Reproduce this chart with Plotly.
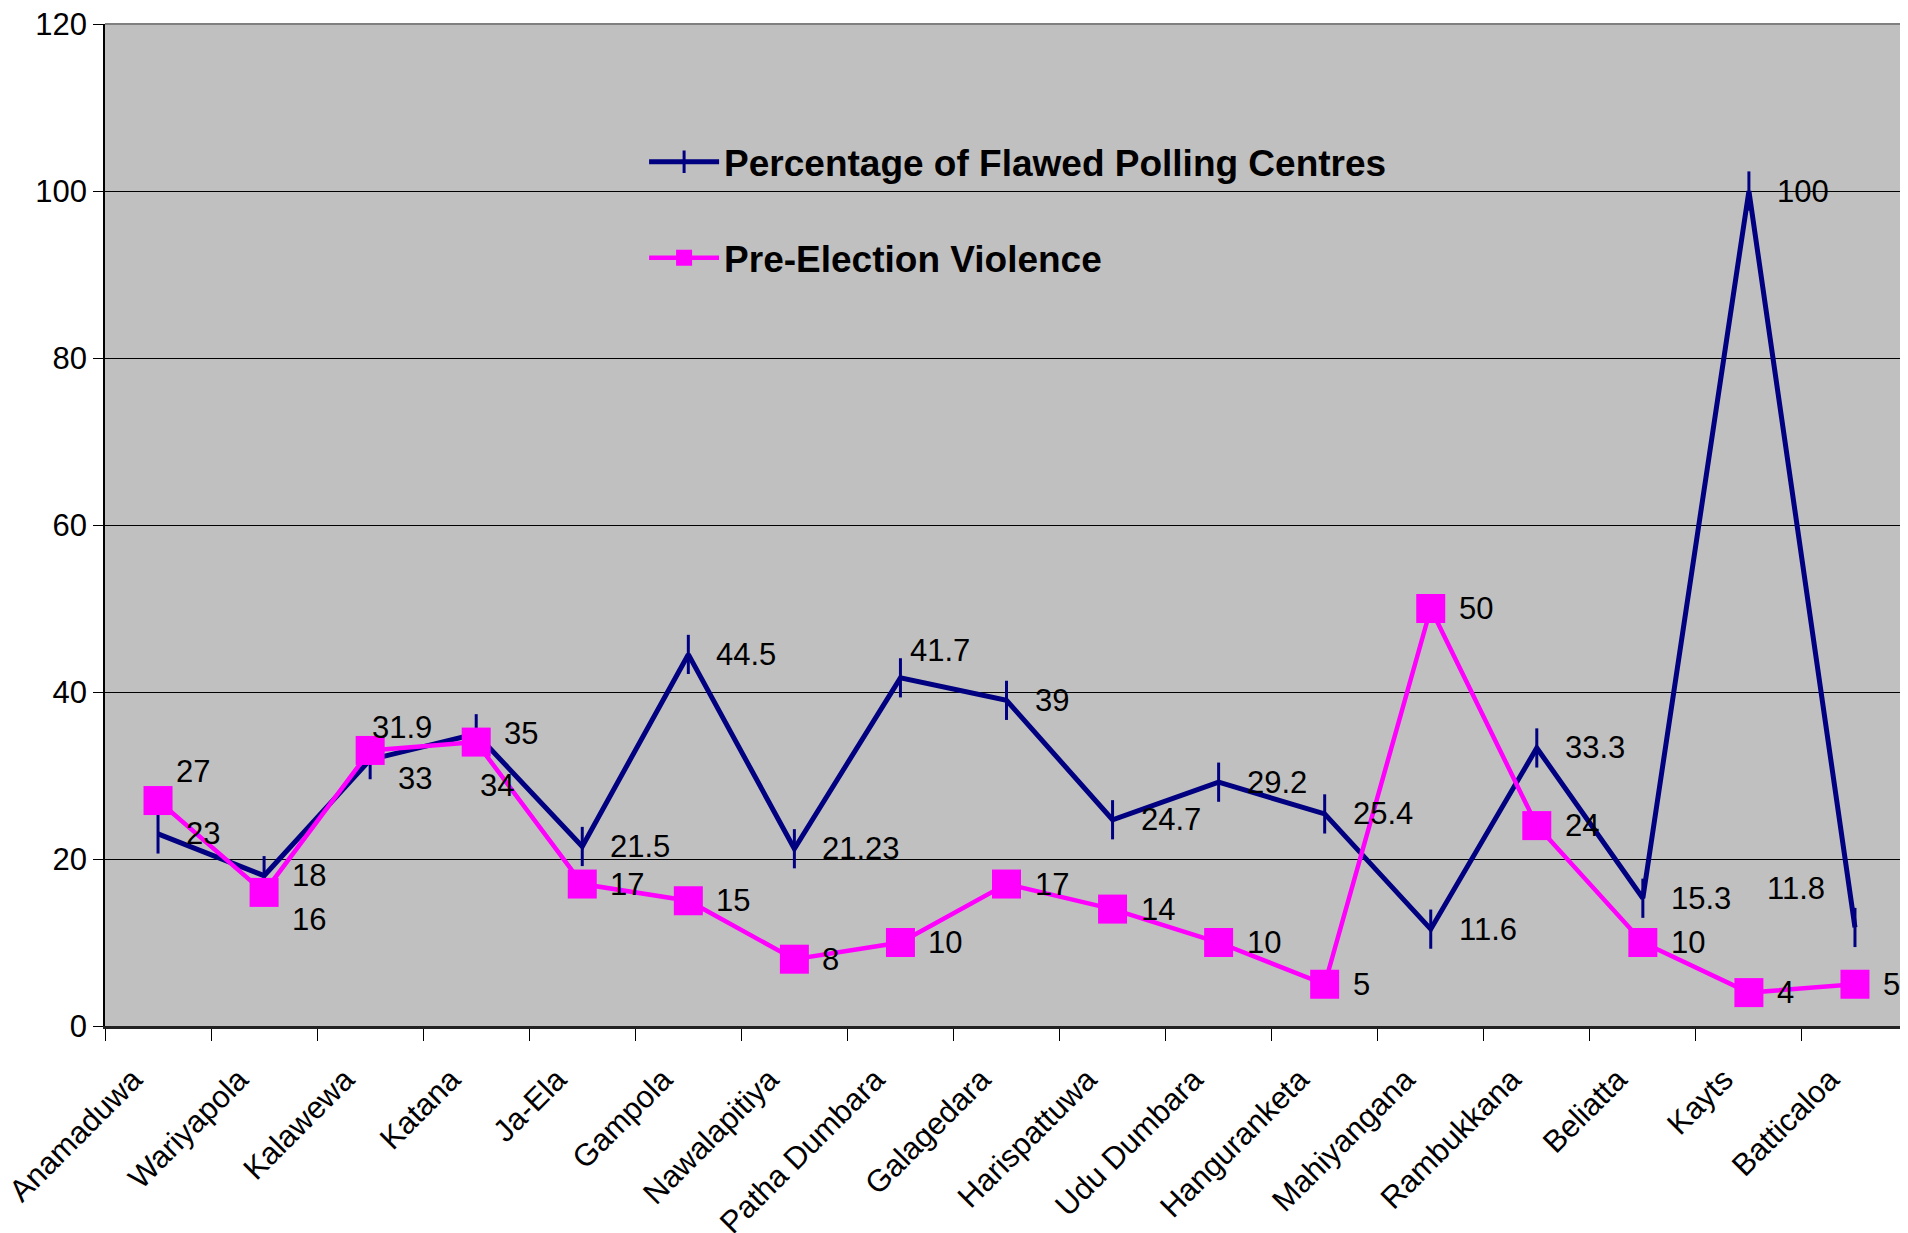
import plotly.graph_objects as go

categories = ["Anamaduwa", "Wariyapola", "Kalawewa", "Katana", "Ja-Ela", "Gampola",
              "Nawalapitiya", "Patha Dumbara", "Galagedara", "Harispattuwa", "Udu Dumbara",
              "Hanguranketa", "Mahiyangana", "Rambukkana", "Beliatta", "Kayts", "Batticaloa"]
flawed = [23, 18, 31.9, 35, 21.5, 44.5, 21.23, 41.7, 39, 24.7, 29.2, 25.4, 11.6, 33.3, 15.3, 100, 11.8]
violence = [27, 16, 33, 34, 17, 15, 8, 10, 17, 14, 10, 5, 50, 24, 10, 4, 5]
y_ticks = [0, 20, 40, 60, 80, 100, 120]

# label placement offsets (pixels) -- style only
flawed_dx = [26, 26, 0, 26, 26, 26, 26, 8, 26, 26, 26, 26, 26, 26, 26, 26, -28]
flawed_dy = [0, 0, 32, 0, 0, 0, 0, 27, 0, 0, 0, 0, 0, 0, 0, 0, 39]
flawed_anchor = ["left"] * 16 + ["right"]
viol_dx = [16, 26, 26, 2] + [26] * 13
viol_dy = [29, -27, -28, -43] + [0] * 13

FONT = "Liberation Sans, Arial, sans-serif"
NAVY = "#000080"
PINK = "#FF00FF"

fig = go.Figure()
fig.add_trace(go.Scatter(
    x=categories, y=flawed, mode="lines+markers",
    name="Percentage of Flawed Polling Centres", legendgroup="a",
    line=dict(color=NAVY, width=5),
    marker=dict(symbol="line-ns", size=28, line=dict(color=NAVY, width=3)),
))
fig.add_trace(go.Scatter(
    x=categories, y=violence, mode="lines+markers",
    name="Pre-Election Violence", legendgroup="b",
    line=dict(color=PINK, width=4.5),
    marker=dict(symbol="square", size=29, color=PINK),
))

annotations = []
for c, v, dx, dy, anc in zip(categories, flawed, flawed_dx, flawed_dy, flawed_anchor):
    annotations.append(dict(x=c, y=v, xref="x", yref="y", text=str(v), showarrow=False,
                            xanchor=anc, yanchor="middle", xshift=dx, yshift=dy,
                            font=dict(family=FONT, size=31, color="black")))
for c, v, dx, dy in zip(categories, violence, viol_dx, viol_dy):
    annotations.append(dict(x=c, y=v, xref="x", yref="y", text=str(v), showarrow=False,
                            xanchor="left", yanchor="middle", xshift=dx, yshift=dy,
                            font=dict(family=FONT, size=31, color="black")))

fig.update_layout(
    width=1900, height=1225,
    margin=dict(l=97, r=0, t=16, b=207, autoexpand=False),
    paper_bgcolor="white", plot_bgcolor="#C0C0C0",
    font=dict(family=FONT, color="black"),
    annotations=annotations,
    showlegend=True,
    legend=dict(x=0.299, y=0.893, xanchor="left", yanchor="top",
                bgcolor="rgba(0,0,0,0)", borderwidth=0,
                traceorder="grouped", tracegroupgap=45, itemwidth=70,
                font=dict(family=FONT, size=37, color="black", weight="bold")),
    shapes=[
        dict(type="rect", xref="paper", yref="paper", x0=0.2274, x1=0.7911, y0=0.733, y1=0.908,
             fillcolor="#C0C0C0", line=dict(width=0), layer="between"),
        dict(type="line", xref="paper", yref="paper", x0=0, x1=1, y0=1, y1=1,
             line=dict(color="#808080", width=2)),
    ],
)
fig.update_xaxes(
    type="category", tickson="boundaries", ticks="outside", ticklen=12, tickcolor="black",
    tickangle=-45, tickfont=dict(family=FONT, size=31, color="black"),
    ticklabelshift=-25, ticklabelstandoff=20, automargin=False, ticklabeloverflow="allow",
    showline=True, linecolor="#222222", linewidth=3, showgrid=False,
    range=[-0.5, len(categories) - 0.5],
)
fig.update_yaxes(
    range=[0, 120], tickvals=y_ticks, ticks="outside", ticklen=10, tickcolor="black",
    tickfont=dict(family=FONT, size=31, color="black"), ticksuffix="\u00a0",
    automargin=False, ticklabeloverflow="allow",
    showline=True, linecolor="black", linewidth=1.5,
    showgrid=True, gridcolor="black", gridwidth=1, zeroline=False,
)

fig.write_html("out.html")
